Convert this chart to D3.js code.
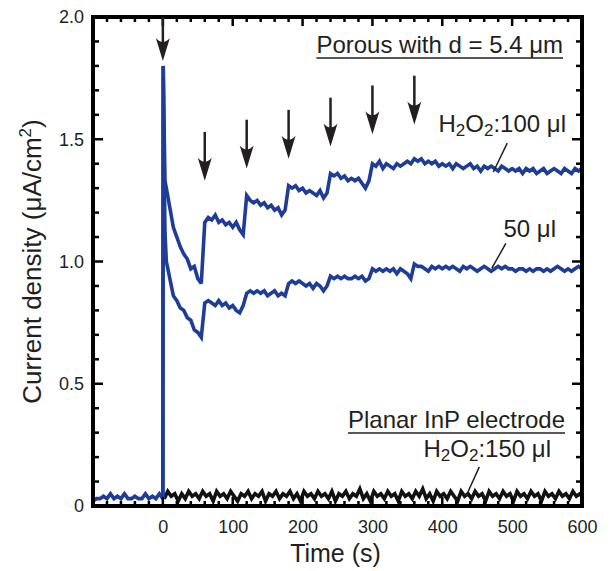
<!DOCTYPE html>
<html>
<head>
<meta charset="utf-8">
<script src="https://cdn.jsdelivr.net/npm/d3@7"></script>
<style>
  body { margin: 0; background: #fff; }
  svg text { font-family: "Liberation Sans", Arial, Helvetica, sans-serif; fill: #231f20; }
</style>
</head>
<body>
<svg id="chart" width="614" height="571"></svg>
<script>
// ---- data ----
var xTicks = [0, 100, 200, 300, 400, 500, 600];
var yTicks = [0, 0.5, 1.0, 1.5, 2.0];

// blue baseline before injection, every 5 s from -100 to 0
var baseTimes = [-100,-95,-90,-85,-80,-75,-70,-65,-60,-55,-50,-45,-40,-35,-30,-25,-20,-15,-10,-5,0];
var baseVals  = [0.02,0.03,0.03,0.04,0.03,0.05,0.03,0.04,0.03,0.05,0.03,0.03,0.04,0.03,0.03,0.05,0.03,0.04,0.03,0.05,0.03];

// porous curves: spike at t=0 then samples every 5 s from 5 to 600
var spikeTimes = [0, 0.5, 3];
var spike100 = [0.03, 1.80, 1.33];
var spike50  = [0.03, 1.80, 1.12];

var por100 = [
  1.30,1.22,1.14,1.10,1.06,1.03,1.01,0.97,0.98,0.93,0.91,
  1.16,1.18,1.17,1.19,1.16,1.17,1.15,1.16,1.14,1.16,1.13,1.11,
  1.27,1.25,1.24,1.25,1.23,1.24,1.22,1.23,1.21,1.22,1.19,1.21,
  1.31,1.30,1.31,1.29,1.30,1.28,1.29,1.28,1.27,1.29,1.26,1.28,
  1.36,1.35,1.36,1.34,1.35,1.33,1.34,1.33,1.34,1.32,1.30,1.33,
  1.40,1.39,1.41,1.38,1.40,1.39,1.38,1.40,1.39,1.40,1.41,1.40,
  1.42,1.41,1.42,1.40,1.41,1.40,1.41,1.39,1.40,1.39,1.40,1.38,
  1.40,1.39,1.38,1.39,1.40,1.38,1.39,1.37,1.39,1.38,1.39,1.38,
  1.37,1.39,1.38,1.37,1.38,1.37,1.38,1.36,1.38,1.37,1.38,1.36,
  1.37,1.38,1.36,1.37,1.38,1.37,1.36,1.38,1.37,1.36,1.38,1.37,1.38
];
var por50 = [
  1.00,0.93,0.86,0.84,0.81,0.80,0.77,0.76,0.72,0.71,0.69,
  0.83,0.84,0.83,0.82,0.84,0.82,0.83,0.81,0.82,0.80,0.79,0.82,
  0.87,0.88,0.87,0.88,0.87,0.88,0.86,0.87,0.88,0.86,0.87,0.86,
  0.91,0.92,0.91,0.92,0.91,0.90,0.91,0.89,0.91,0.90,0.88,0.90,
  0.94,0.93,0.94,0.93,0.94,0.93,0.93,0.94,0.93,0.94,0.92,0.93,
  0.97,0.96,0.97,0.96,0.97,0.96,0.97,0.95,0.97,0.96,0.95,0.93,
  0.99,0.98,0.98,0.97,0.96,0.98,0.97,0.98,0.97,0.98,0.97,0.98,
  0.97,0.96,0.98,0.97,0.98,0.97,0.96,0.97,0.98,0.97,0.96,0.97,
  0.98,0.97,0.98,0.97,0.97,0.96,0.97,0.97,0.96,0.97,0.96,0.97,
  0.97,0.96,0.97,0.96,0.97,0.98,0.97,0.96,0.97,0.96,0.97,0.98,0.97
];

// planar InP, every 5 s from 0 to 600
var planar = [
  0.03,0.06,0.04,0.05,0.02,0.05,0.03,0.06,0.04,0.05,0.03,0.06,
  0.04,0.05,0.02,0.06,0.04,0.05,0.03,0.06,0.04,0.02,0.05,0.04,
  0.06,0.03,0.05,0.04,0.06,0.02,0.05,0.04,0.06,0.03,0.05,0.04,
  0.06,0.03,0.05,0.02,0.06,0.04,0.05,0.03,0.06,0.04,0.05,0.03,
  0.06,0.02,0.05,0.04,0.06,0.03,0.05,0.04,0.07,0.03,0.05,0.02,
  0.06,0.04,0.05,0.03,0.06,0.04,0.05,0.02,0.06,0.04,0.05,0.03,
  0.06,0.04,0.07,0.03,0.05,0.02,0.06,0.04,0.05,0.03,0.06,0.04,
  0.02,0.06,0.04,0.05,0.03,0.06,0.04,0.05,0.02,0.06,0.04,0.05,
  0.03,0.06,0.04,0.05,0.02,0.06,0.04,0.05,0.03,0.06,0.04,0.05,
  0.02,0.06,0.04,0.05,0.03,0.06,0.04,0.05,0.03,0.06,0.04,0.05,0.03
];

// injection arrows: time and value at the arrow tip
var arrowTimes = [0, 60, 120, 180, 240, 300, 360];
var arrowTips  = [1.82, 1.33, 1.38, 1.42, 1.47, 1.52, 1.56];

// ---- layout ----
var svg = d3.select('#chart');
var mLeft = 93, mRight = 582, mTop = 17, mBottom = 506;
var blue = '#1f3d98', ink = '#231f20';

var x = d3.scaleLinear().domain([-100, 600]).range([mLeft, mRight]);
var y = d3.scaleLinear().domain([0, 2]).range([mBottom, mTop]);

// time helpers (sampling grid of the logger)
function grid(start, n) { return d3.range(n).map(function(i){ return start + i * 5; }); }
function pairs(ts, vs) { return ts.map(function(t, i){ return [t, vs[i]]; }); }

var line = d3.line().x(function(d){ return x(d[0]); }).y(function(d){ return y(d[1]); });

var plot = svg.append('g');
plot.append('clipPath').attr('id', 'clip')
  .append('rect').attr('x', mLeft).attr('y', mTop).attr('width', mRight - mLeft).attr('height', mBottom - mTop);
var g = plot.append('g').attr('clip-path', 'url(#clip)');

var planarData = pairs(grid(2, planar.length), planar);
var base = pairs(baseTimes, baseVals);
var d100 = pairs(spikeTimes, spike100).concat(pairs(grid(5, por100.length), por100));
var d50  = pairs(spikeTimes, spike50).concat(pairs(grid(5, por50.length), por50));

g.append('path').datum(planarData).attr('d', line)
  .attr('fill', 'none').attr('stroke', '#111').attr('stroke-width', 3.6).attr('stroke-linejoin', 'miter');
[base, d50, d100].forEach(function(d){
  g.append('path').datum(d).attr('d', line)
    .attr('fill', 'none').attr('stroke', blue).attr('stroke-width', 3.6).attr('stroke-linejoin', 'miter')
    .attr('stroke-miterlimit', 3);
});

// ---- axes: inward ticks on all four sides ----
function tickLen(major) { return major ? 9 : 5; }
var xMinor = d3.range(-100, 601, 20);
var yMinor = d3.range(0, 2.001, 0.1);

var ticks = svg.append('g').attr('stroke', '#000').attr('stroke-width', 2.5);
xMinor.forEach(function(t){
  var L = tickLen(t % 100 === 0);
  ticks.append('line').attr('x1', x(t)).attr('x2', x(t)).attr('y1', mTop).attr('y2', mTop + L);
  ticks.append('line').attr('x1', x(t)).attr('x2', x(t)).attr('y1', mBottom).attr('y2', mBottom - L);
});
yMinor.forEach(function(v){
  var L = tickLen(Math.abs(v * 2 - Math.round(v * 2)) < 1e-6) + 1;
  ticks.append('line').attr('y1', y(v)).attr('y2', y(v)).attr('x1', mLeft).attr('x2', mLeft + L);
  ticks.append('line').attr('y1', y(v)).attr('y2', y(v)).attr('x1', mRight).attr('x2', mRight - L);
});

svg.append('rect').attr('x', mLeft).attr('y', mTop).attr('width', mRight - mLeft).attr('height', mBottom - mTop)
  .attr('fill', 'none').attr('stroke', '#000').attr('stroke-width', 4);

var xAxis = d3.axisBottom(x).tickValues(xTicks).tickSize(0).tickPadding(14);
svg.append('g').attr('transform', 'translate(0,' + mBottom + ')').call(xAxis)
  .call(function(s){ s.select('.domain').remove(); })
  .selectAll('text').attr('font-size', 18).attr('fill', ink)
  .style('font-family', '"Liberation Sans", Arial, sans-serif');

var yAxis = d3.axisLeft(y).tickValues(yTicks).tickSize(0).tickPadding(9)
  .tickFormat(function(v){ return v === 0 ? '0' : d3.format('.1f')(v); });
svg.append('g').attr('transform', 'translate(' + mLeft + ',0)').call(yAxis)
  .call(function(s){ s.select('.domain').remove(); })
  .selectAll('text').attr('font-size', 18).attr('fill', ink)
  .style('font-family', '"Liberation Sans", Arial, sans-serif');

// axis titles
svg.append('text').attr('x', (mLeft + mRight) / 2 - 2).attr('y', 562)
  .attr('text-anchor', 'middle').attr('font-size', 25).text('Time (s)');

var yl = svg.append('text').attr('transform', 'translate(41,' + ((mTop + mBottom) / 2) + ') rotate(-90)')
  .attr('text-anchor', 'middle').attr('font-size', 26);
yl.append('tspan').text('Current density (μA/cm');
yl.append('tspan').attr('font-size', 17).attr('dy', -10).text('2');
yl.append('tspan').attr('dy', 10).text(')');

// ---- arrows ----
var arrows = svg.append('g').attr('fill', ink).attr('stroke', ink);
arrowTimes.forEach(function(t, i){
  var xt = x(t), yt = y(arrowTips[i]);
  var ytop = i === 0 ? mTop : y(arrowTips[i] + 0.2);
  arrows.append('line').attr('x1', xt).attr('x2', xt).attr('y1', ytop).attr('y2', yt - 10)
    .attr('stroke-width', 2.5);
  arrows.append('path').attr('stroke', 'none')
    .attr('d', 'M' + xt + ',' + yt + ' L' + (xt - 7) + ',' + (yt - 23) +
               ' Q' + xt + ',' + (yt - 15) + ' ' + (xt + 7) + ',' + (yt - 23) + ' Z');
});

// ---- annotations ----
function label(xEnd, yBase, parts) {
  var t = svg.append('text').attr('x', xEnd).attr('y', yBase).attr('text-anchor', 'end').attr('font-size', 24);
  parts.forEach(function(p){
    var s = t.append('tspan').text(p[0]);
    if (p[1] === 'sub') s.attr('font-size', 17).attr('dy', 4);
    if (p[1] === 'up') s.attr('dy', -4);
  });
  return t;
}
function underline(node, yLine) {
  var b = node.node().getBBox();
  svg.append('line').attr('x1', b.x).attr('x2', b.x + b.width).attr('y1', yLine).attr('y2', yLine)
    .attr('stroke', ink).attr('stroke-width', 1.5);
}
function leader(t1, v1, t2, v2) {
  svg.append('line').attr('x1', x(t1)).attr('y1', y(v1)).attr('x2', x(t2)).attr('y2', y(v2))
    .attr('stroke', ink).attr('stroke-width', 1.5);
}

var title1 = label(563, 53, [['Porous with d = 5.4 μm']]);
underline(title1, 58);
label(566, 132, [['H'], ['2', 'sub'], ['O', 'up'], ['2', 'sub'], [':100 μl', 'up']]);
leader(493, 1.484, 473, 1.366);
label(556, 237, [['50 μl']]);
leader(491, 1.074, 471, 0.973);

var title2 = label(565, 428, [['Planar InP electrode']]);
underline(title2, 433);
label(551, 457, [['H'], ['2', 'sub'], ['O', 'up'], ['2', 'sub'], [':150 μl', 'up']]);
leader(453, 0.16, 434, 0.04);
</script>
</body>
</html>
